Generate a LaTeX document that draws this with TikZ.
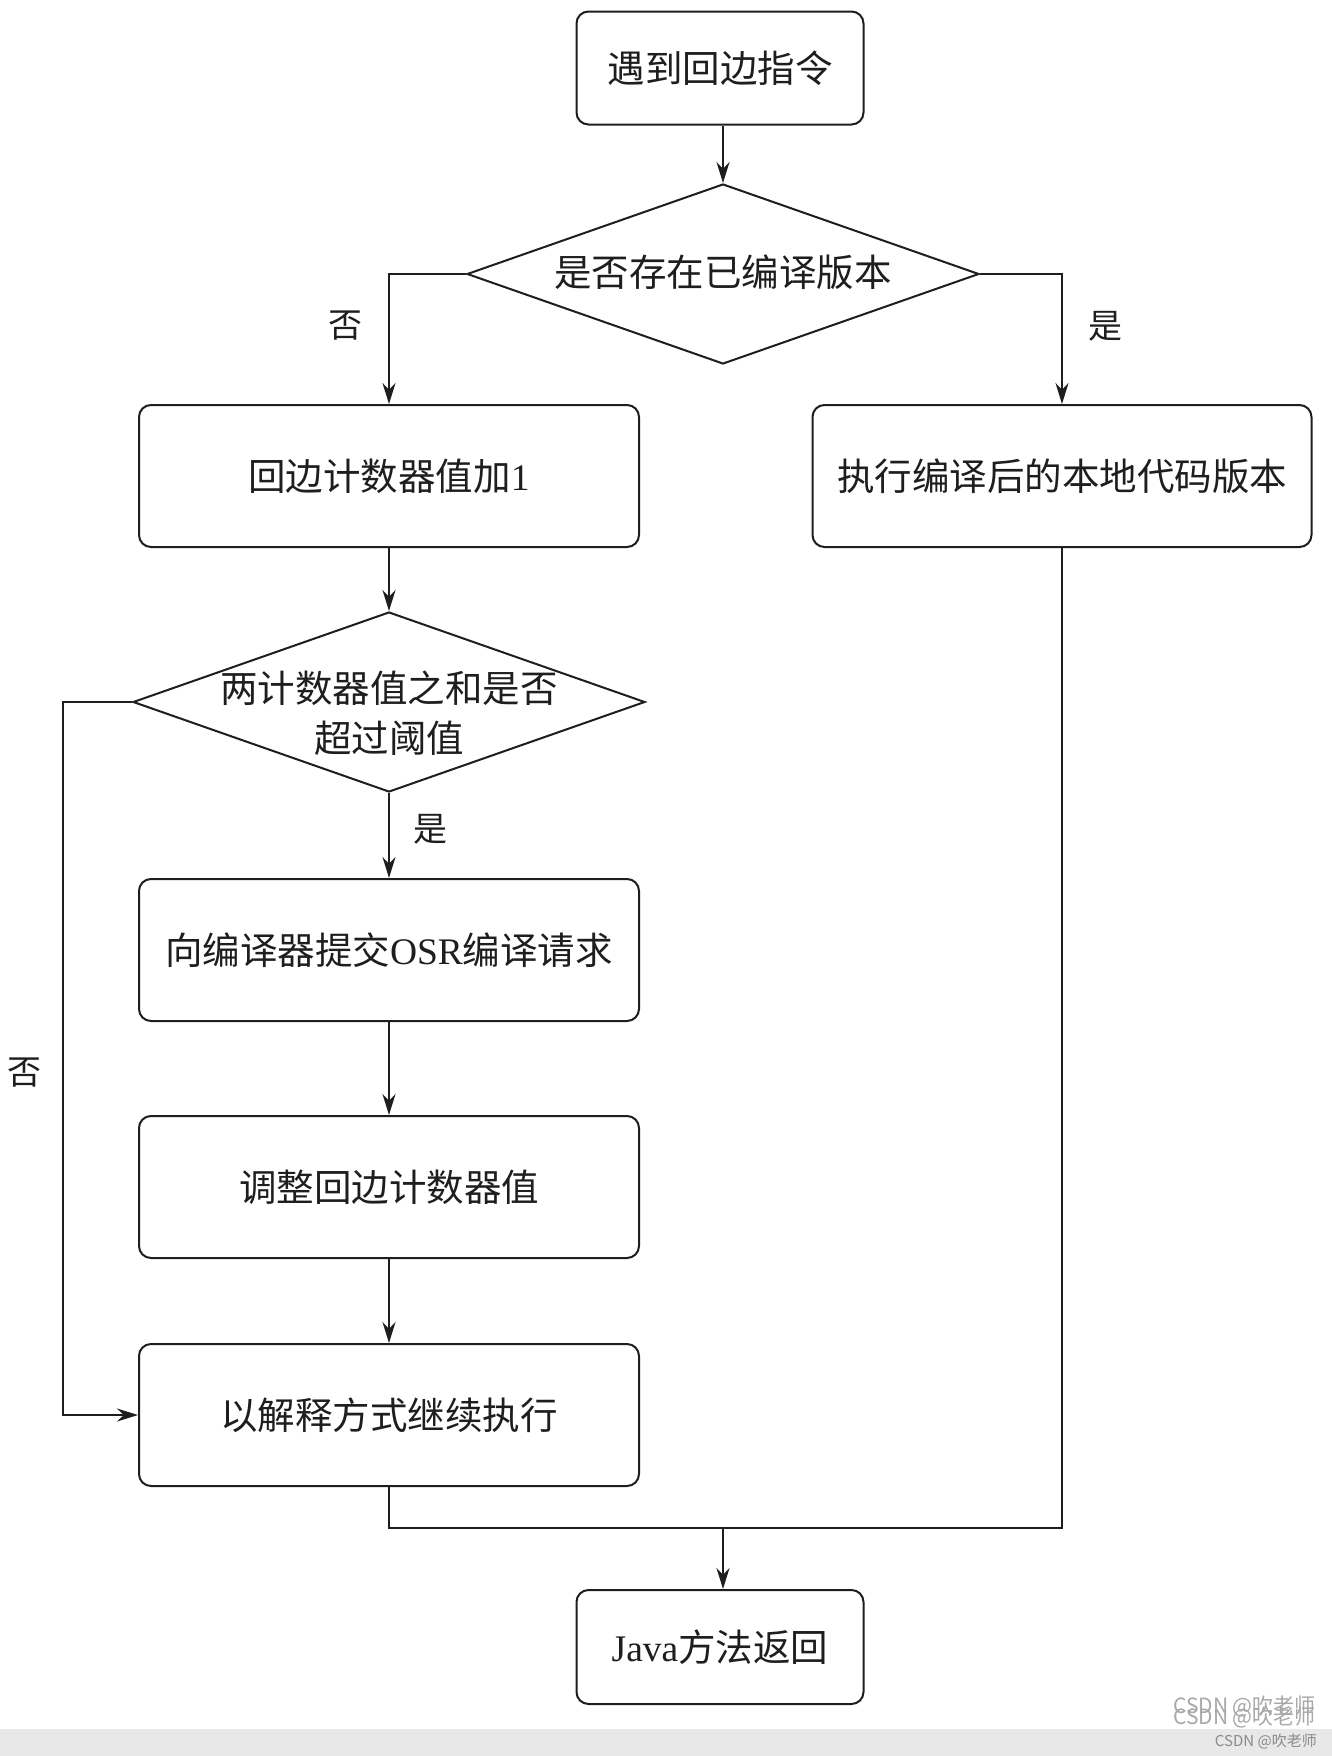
\documentclass[tikz,border=0pt]{standalone}
\usepackage{fontspec}
\setmainfont{Liberation Serif}
\newfontfamily\cjkf{Noto Sans CJK SC}
\usetikzlibrary{shapes.geometric,arrows.meta}
\definecolor{linec}{HTML}{1E1E1E}
\definecolor{wmgray}{HTML}{A8A8A8}
\definecolor{footbg}{HTML}{E8E8E8}
\definecolor{foottx}{HTML}{8A8A8A}
\tikzset{
  procbox/.style={draw=linec, line width=2pt, rounded corners=12pt, inner sep=0pt,
    text=linec, font=\cjkf\fontsize{37.5}{45}\selectfont},
  wide/.style={minimum width=500pt, minimum height=142pt},
  small/.style={minimum width=287pt, minimum height=113pt},
  decision/.style={diamond, draw=linec, line width=2pt, inner sep=0pt,
    minimum width=512pt, minimum height=180pt},
  dtext/.style={text=linec, font=\cjkf\fontsize{37.5}{50}\selectfont, align=center, inner sep=0pt},
  lbl/.style={text=linec, font=\cjkf\fontsize{34}{40}\selectfont, inner sep=0pt},
  conn/.style={draw=linec, line width=2pt},
  arr/.style={conn, -{Stealth[length=21pt,width=13pt]}},
}
\begin{document}
\begin{tikzpicture}[x=1pt,y=-1pt]
\useasboundingbox (0,0) rectangle (1332,1756);
\fill[white] (0,0) rectangle (1332,1756);
\fill[footbg] (0,1729) rectangle (1332,1756);

% nodes
\node[procbox, small] (start) at (720,68) {遇到回边指令};
\node[decision] (d1) at (723,274) {};
\node[dtext] (d1t) at (723,272) {是否存在已编译版本};
\node[procbox, wide] (b1) at (389,476) {回边计数器值加{\rmfamily 1}};
\node[procbox, wide, minimum width=499pt] (b2) at (1062,476) {执行编译后的本地代码版本};
\node[decision] (d2) at (389,702) {};
\node[dtext] (d2t) at (389,713) {两计数器值之和是否\\超过阈值};
\node[procbox, wide] (b3) at (389,950) {向编译器提交{\rmfamily OSR}编译请求};
\node[procbox, wide] (b4) at (389,1187) {调整回边计数器值};
\node[procbox, wide] (b5) at (389,1415) {以解释方式继续执行};
\node[procbox, small, minimum height=114pt] (ret) at (720,1647) {{\rmfamily Java}方法返回};

\coordinate (lp) at (63,702);
\coordinate (m) at (723,1528);

% connectors
\draw[arr] (start.south -| d1.north) -- (d1.north);
\draw[arr] (d1.west) -| (b1.north);
\draw[arr] (d1.east) -| (b2.north);
\draw[arr] (b1) -- (d2);
\draw[arr] (d2) -- (b3);
\draw[arr] (b3) -- (b4);
\draw[arr] (b4) -- (b5);
\draw[arr] (d2.west) -- (lp) |- (b5.west);
\draw[conn] (b5.south) |- (m);
\draw[conn] (b2.south) |- (m);
\draw[arr] (m) -- (m |- ret.north);

% labels
\node[lbl] (no1) at (345,326) {否};
\node[lbl] (yes1) at (1105,326) {是};
\node[lbl] (yes2) at (430,829) {是};
\node[lbl] (no2) at (25,1073) {否};

% watermark
\node[text=wmgray, font=\cjkf\fontsize{21}{21}\selectfont, anchor=east, inner sep=0pt] (wm1) at (1316,1706) {CSDN @吹老师};
\node[text=wmgray, font=\cjkf\fontsize{21}{21}\selectfont, anchor=east, inner sep=0pt] (wm2) at (1316,1717) {CSDN @吹老师};
\node[text=foottx, font=\cjkf\fontsize{15}{15}\selectfont, anchor=east, inner sep=0pt] (wm3) at (1317,1741) {CSDN @吹老师};
\end{tikzpicture}
\end{document}
